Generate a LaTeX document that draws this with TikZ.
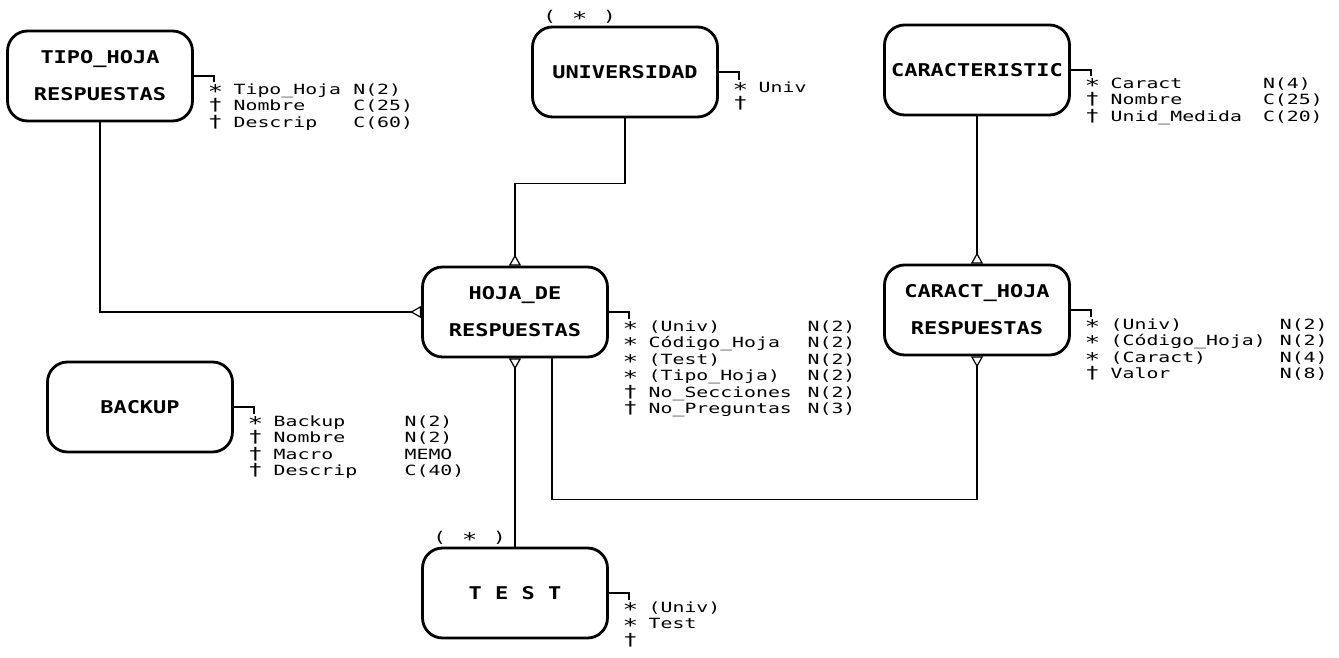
\documentclass[tikz,border=0pt]{standalone}
\usepackage{fontspec}
\usetikzlibrary{arrows.meta,calc}
\newfontfamily\attrfont[FakeStretch=1.41]{DejaVu Sans Mono}
\newfontfamily\entfont[FakeStretch=1.25]{DejaVu Sans Mono}
\newcommand{\keyf}{\smash{\fontsize{10.5}{8}\selectfont ∗}}
\newcommand{\attf}{\smash{\fontsize{9.5}{8}\selectfont †}}
\begin{document}
\begin{tikzpicture}
[x=0.02cm, y=-0.02cm, line width=0.7pt]
\tikzstyle{entity}=[draw, line width=1.6pt, rounded corners=0.4cm, minimum width=3.7cm, minimum height=1.8cm, align=center, font=\entfont\bfseries\fontsize{10}{21}\selectfont]
\tikzstyle{attrs}=[anchor=north west, inner sep=0pt, font=\attrfont\fontsize{8}{9.4}\selectfont]
\tikzstyle{many}=[-{Triangle[open,reversed,length=2.2mm,width=2.4mm]}]
\tikzstyle{ident}=[label={[font=\attrfont\fontsize{8.5}{8}\selectfont, anchor=south west, xshift=0.2cm, inner sep=1pt]north west:({\fontsize{10.5}{8}\selectfont\ ∗\ })}]
\path[use as bounding box, fill=white] (0,0) rectangle (1339,658);

% entities
\node[entity]        (tipo)   at (100,76)  {TIPO\_HOJA\\RESPUESTAS};
\node[entity, ident] (univ)   at (625,72)  {UNIVERSIDAD};
\node[entity]        (carac)  at (977,70)  {CARACTERISTIC};
\node[entity]        (hoja)   at (515,312) {HOJA\_DE\\RESPUESTAS};
\node[entity]        (chr)    at (977,310) {CARACT\_HOJA\\RESPUESTAS};
\node[entity]        (backup) at (140,407) {BACKUP};
\node[entity, ident] (test)   at (515,593) {T E S T};

% attribute lists
\node[attrs] (tipoa) at ($(tipo.east)+(13,6)$) {\begin{tabular}{@{}c@{\hspace{6pt}}l@{\hspace{7pt}}l@{}}
\keyf & Tipo\_Hoja & N(2)\\
\attf & Nombre & C(25)\\
\attf & Descrip & C(60)
\end{tabular}};
\node[attrs] (univa) at ($(univ.east)+(13,8)$) {\begin{tabular}{@{}c@{\hspace{6pt}}l@{}}
\keyf & Univ\\
\attf &
\end{tabular}};
\node[attrs] (caraca) at ($(carac.east)+(13,6)$) {\begin{tabular}{@{}c@{\hspace{6pt}}l@{\hspace{12pt}}l@{}}
\keyf & Caract & N(4)\\
\attf & Nombre & C(25)\\
\attf & Unid\_Medida & C(20)
\end{tabular}};
\node[attrs] (hojaa) at ($(hoja.east)+(13,7)$) {\begin{tabular}{@{}c@{\hspace{6pt}}l@{\hspace{9pt}}l@{}}
\keyf & (Univ) & N(2)\\
\keyf & Código\_Hoja & N(2)\\
\keyf & (Test) & N(2)\\
\keyf & (Tipo\_Hoja) & N(2)\\
\attf & No\_Secciones & N(2)\\
\attf & No\_Preguntas & N(3)
\end{tabular}};
\node[attrs] (chra) at ($(chr.east)+(13,7)$) {\begin{tabular}{@{}c@{\hspace{6pt}}l@{\hspace{8pt}}l@{}}
\keyf & (Univ) & N(2)\\
\keyf & (Código\_Hoja) & N(2)\\
\keyf & (Caract) & N(4)\\
\attf & Valor & N(8)
\end{tabular}};
\node[attrs] (backupa) at ($(backup.east)+(13,7)$) {\begin{tabular}{@{}c@{\hspace{6pt}}l@{\hspace{27pt}}l@{}}
\keyf & Backup & N(2)\\
\attf & Nombre & N(2)\\
\attf & Macro & MEMO\\
\attf & Descrip & C(40)
\end{tabular}};
\node[attrs] (testa) at ($(test.east)+(13,7)$) {\begin{tabular}{@{}c@{\hspace{6pt}}l@{}}
\keyf & (Univ)\\
\keyf & Test\\
\attf &
\end{tabular}};

% brackets
\foreach \e in {tipo, univ, carac, hoja, chr, backup, test}
  \draw (\e.east) -| ($(\e a.north west)+(7,0)$);

% relations
\draw[many] (tipo.south) |- (hoja.west);
\draw[many] (univ.south) -- ++(0,65) -| (hoja.north);
\draw[many] (carac.south) -- (chr.north);
\draw[many] (test.north) -- (hoja.south);
\draw[many] ($(hoja.south)+(37,0)$) -- ++(0,141) -| (chr.south);
\end{tikzpicture}
\end{document}
